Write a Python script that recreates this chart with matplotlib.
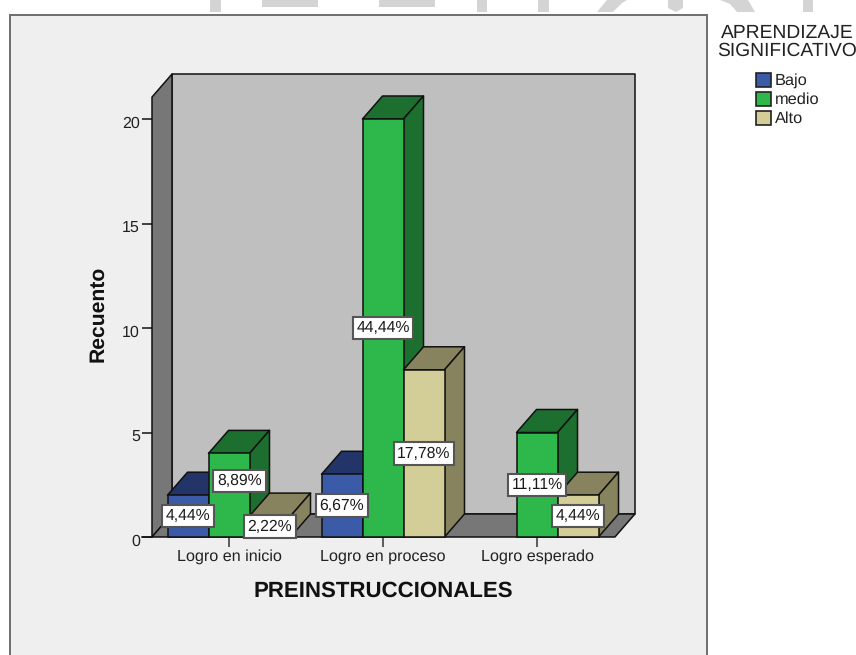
import matplotlib
matplotlib.use("Agg")
from matplotlib import pyplot as plt
from matplotlib.patches import Polygon, Rectangle
from matplotlib.transforms import ScaledTranslation

categories = ["Logro en inicio", "Logro en proceso", "Logro esperado"]
series_names = ["Bajo", "medio", "Alto"]
bajo = [2, 3, 0]
medio = [4, 20, 5]
alto = [1, 8, 2]
bajo_labels = ["4,44%", "6,67%", None]
medio_labels = ["8,89%", "44,44%", "11,11%"]
alto_labels = ["2,22%", "17,78%", "4,44%"]
y_ticks = [0, 5, 10, 15, 20]

front_colors = ["#3b5aa8", "#2eb84b", "#d3cd98"]
top_colors = ["#223468", "#1c6f2e", "#87835f"]
EDGE = "#111111"

W, H = 856, 655
plt.rcParams["font.family"] = ["Liberation Sans", "DejaVu Sans"]
plt.rcParams["text.hinting"] = "none"

fig = plt.figure(figsize=(W / 100, H / 100), dpi=100, facecolor="white")

# watermark scraps and the grey chart frame, in pixel coords
bg = fig.add_axes([0, 0, 1, 1])
bg.set_xlim(0, W)
bg.set_ylim(H, 0)
bg.axis("off")
for x0, x1, y1 in [(210, 221, 12), (262, 318, 7), (379, 435, 7), (477, 487, 12), (538, 549, 12), (803, 813, 12)]:
    bg.add_patch(Rectangle((x0, 0), x1 - x0, y1, fc="#d4d4d4", ec="none"))
for pts in [[(597, 12), (607, 0), (627, 0), (622, 3), (613, 12)],
            [(668, 0), (683, 0), (683, 8), (676, 12), (668, 8)],
            [(720, 0), (748, 0), (755, 12), (737, 12), (730, 4)]]:
    bg.add_patch(Polygon(pts, fc="#d4d4d4", ec="none"))
bg.add_patch(Rectangle((10, 15), 697, 660, fc="#efefef", ec="#6e6e6e", lw=1.4))

# main axes: one x unit is one category spacing (154 px), one y unit 20.9 px
px_x, px_y = 154.0, 20.9
x_left, x_right = -0.5, 2.506
y_top = 21.05
ax_l = 229 + x_left * px_x
ax_w = (x_right - x_left) * px_x
ax = fig.add_axes([ax_l / W, (H - 537) / H, ax_w / W, y_top * px_y / H])
ax.set_xlim(x_left, x_right)
ax.set_ylim(0, y_top)
ax.patch.set_visible(False)

dx, dy = 20 / px_x, 23 / px_y
bar_w = 41 / px_x
offsets = [-1, 0, 1]
lc = dict(ec=EDGE, lw=1.1, clip_on=False, joinstyle="round")

# back wall, left wall, floor
ax.add_patch(Polygon([(x_left + dx, dy), (x_right + dx, dy), (x_right + dx, y_top + dy), (x_left + dx, y_top + dy)],
                     fc="#bfbfbf", zorder=1, **lc))
ax.add_patch(Polygon([(x_left, 0), (x_left + dx, dy), (x_left + dx, y_top + dy), (x_left, y_top)],
                     fc="#777777", zorder=1, **lc))
ax.add_patch(Polygon([(x_left, 0), (x_right, 0), (x_right + dx, dy), (x_left + dx, dy)],
                     fc="#777777", zorder=1, **lc))

# bars, painted left to right so nearer faces overlap properly
z = 2
for g in range(len(categories)):
    for s, vals in enumerate([bajo, medio, alto]):
        v = vals[g]
        if v == 0:
            continue
        x0 = g + offsets[s] * bar_w - bar_w / 2
        x1 = x0 + bar_w
        ax.add_patch(Polygon([(x0, v), (x1, v), (x1 + dx, v + dy), (x0 + dx, v + dy)],
                             fc=top_colors[s], zorder=z, **lc))
        ax.add_patch(Polygon([(x1, 0), (x1 + dx, dy), (x1 + dx, v + dy), (x1, v)],
                             fc=top_colors[s], zorder=z, **lc))
        ax.bar(x0, v, bar_w, align="edge", color=front_colors[s], edgecolor=EDGE, linewidth=1.1, zorder=z + 1, clip_on=False)
        z += 2

# value labels sit at mid-height of each bar; 8,89% was nudged in the original
box = dict(boxstyle="square,pad=0.24", fc="white", ec="#555555", lw=1.5)
for s, labels in enumerate([bajo_labels, medio_labels, alto_labels]):
    vals = [bajo, medio, alto][s]
    for g, lab in enumerate(labels):
        if lab is None:
            continue
        xc = g + offsets[s] * bar_w
        yc = vals[g] / 2
        if lab == "8,89%":
            xc += 10.5 / px_x
            yc += 14 / px_y
        ax.text(xc, yc, lab, ha="center", va="center", fontsize=11.3, color="#1a1a1a", bbox=box, zorder=100)

for name in ["top", "right", "left", "bottom"]:
    ax.spines[name].set_visible(False)

ax.set_yticks(y_ticks)
ax.set_yticklabels([str(t) for t in y_ticks], fontsize=11.5, color="#222222")
ax.tick_params(axis="y", length=7.2, width=1.1, color=EDGE, pad=1.5)
for lab in ax.get_yticklabels():
    lab.set_transform(lab.get_transform() + ScaledTranslation(0, -2 / 72, fig.dpi_scale_trans))
ax.set_xticks(range(len(categories)))
ax.set_xticklabels(categories, fontsize=11.6, color="#222222")
ax.tick_params(axis="x", length=7.2, width=1.1, color="#333333", pad=1.5)
ax.set_xlabel("PREINSTRUCCIONALES", fontsize=16, fontweight="bold", color="#111111", labelpad=12)
ax.set_ylabel("Recuento", fontsize=15.2, fontweight="bold", color="#111111", labelpad=10.5, y=0.507)
ax.plot([x_left - 10 / px_x, x_left], [0, 0], color=EDGE, lw=1.1, clip_on=False, zorder=0)

# legend block, placed by hand to follow the SPSS layout
bg.text(787, 33, "APRENDIZAJE", ha="center", va="center", fontsize=13.9, color="#222222")
bg.text(787, 51, "SIGNIFICATIVO", ha="center", va="center", fontsize=13.9, color="#222222")
for i, name in enumerate(series_names):
    y = 80 + i * 19
    bg.add_patch(Rectangle((756, y - 7), 15, 14, fc=front_colors[i], ec="#222222", lw=1.2))
    bg.text(775, y + 1, name, ha="left", va="center", fontsize=11.8, color="#222222")

fig.savefig("out.png", dpi=100)
plt.close(fig)
